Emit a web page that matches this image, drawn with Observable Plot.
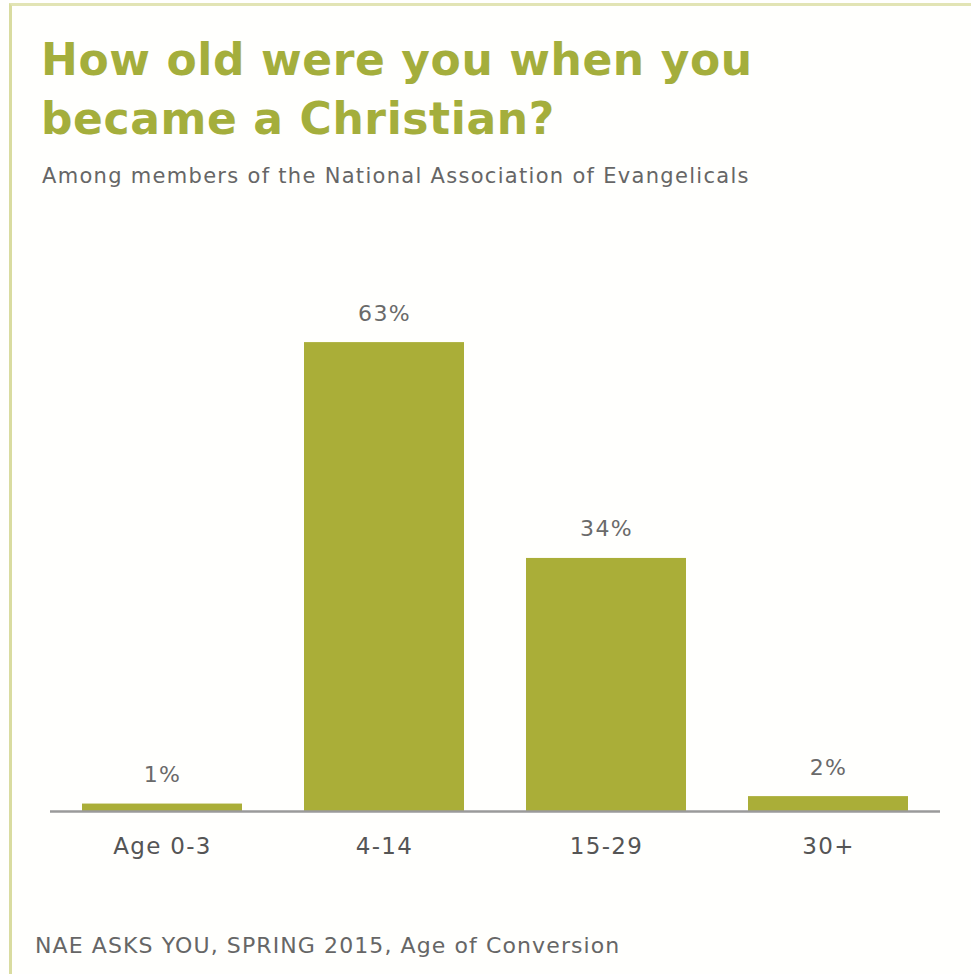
<!DOCTYPE html>
<html>
<head>
<meta charset="utf-8">
<script src="https://cdn.jsdelivr.net/npm/d3@7"></script>
<script src="https://cdn.jsdelivr.net/npm/@observablehq/plot@0.6"></script>
<style>
  html, body { margin: 0; padding: 0; background: #fffffd; }
  #page { position: relative; width: 971px; height: 974px; overflow: hidden; font-family: "DejaVu Sans", sans-serif; }
  #frame { position: absolute; left: 9px; top: 3px; width: 1000px; height: 1000px; border-left: 3px solid #d9dca0; border-top: 3px solid #e2e4b4; }
  #title { position: absolute; left: 41px; top: 30px; margin: 0; font-size: 44px; line-height: 59px; font-weight: 700; color: #a4ae3c; letter-spacing: 0.6px; }
  #subtitle { position: absolute; left: 42px; top: 164px; margin: 0; font-size: 21px; color: #666; letter-spacing: 1.3px; }
  #chart { position: absolute; left: 0; top: 260px; }
  #caption { position: absolute; left: 35px; top: 933px; margin: 0; font-size: 22px; color: #666; letter-spacing: 1.1px; }
</style>
</head>
<body>
<div id="page">
  <div id="frame"></div>
  <h1 id="title">How old were you when you<br>became a Christian?</h1>
  <p id="subtitle">Among members of the National Association of Evangelicals</p>
  <div id="chart"></div>
  <p id="caption">NAE ASKS YOU, SPRING 2015, Age of Conversion</p>
</div>
<script>
const categories = ["Age 0-3", "4-14", "15-29", "30+"];
const values = [1, 63, 34, 2];
const valueLabels = ["1%", "63%", "34%", "2%"];

const data = categories.map((c, i) => ({category: c, value: values[i], label: valueLabels[i]}));

const chart = Plot.plot({
  width: 971,
  height: 620,
  marginLeft: 50,
  marginRight: 31,
  marginTop: 30,
  marginBottom: 69,
  style: {background: "transparent", fontFamily: "'DejaVu Sans', sans-serif", letterSpacing: "1.3px"},
  x: {domain: categories, paddingInner: 0.28, paddingOuter: 0.14, label: null},
  y: {domain: [0, 70], axis: null},
  marks: [
    Plot.barY(data, {x: "category", y: "value", fill: "#aaae38"}),
    Plot.ruleY([0], {stroke: "#9a9a9a", strokeWidth: 2.5}),
    Plot.text(data, {x: "category", y: "value", text: "label", dy: -29, fontSize: 22, fill: "#6a6a6a"}),
    Plot.axisX({tickSize: 0, tickPadding: 26, fontSize: 23, fill: "#555", label: null})
  ]
});
document.getElementById("chart").appendChild(chart);
</script>
</body>
</html>
